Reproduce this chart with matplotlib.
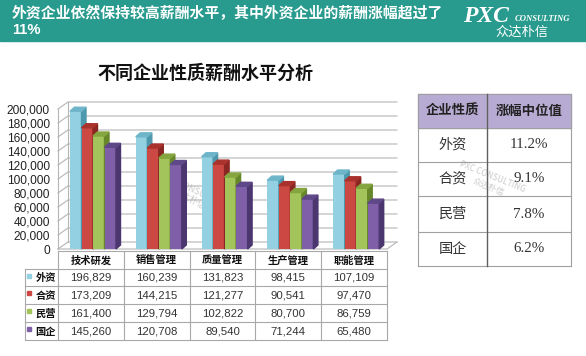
import matplotlib.pyplot as plt
from matplotlib.patches import Rectangle, Polygon

# ---- data ----
categories = ["技术研发", "销售管理", "质量管理", "生产管理", "职能管理"]
series_names = ["外资", "合资", "民营", "国企"]
foreign = [196829, 160239, 131823, 98415, 107109]
joint = [173209, 144215, 121277, 90541, 97470]
private = [161400, 129794, 102822, 80700, 86759]
state = [145260, 120708, 89540, 71244, 65480]
y_ticks = list(range(0, 200001, 20000))

growth_types = ["外资", "合资", "民营", "国企"]
growth_median = ["11.2%", "9.1%", "7.8%", "6.2%"]

header_text = "外资企业依然保持较高薪酬水平，其中外资企业的薪酬涨幅超过了"
header_text2 = "11%"
chart_title = "不同企业性质薪酬水平分析"

front_colors = ["#93d0e2", "#cc4843", "#a2c45a", "#7f60a8"]
side_colors = ["#4e98ad", "#8a2723", "#67872b", "#4b3670"]
top_colors = ["#6fb5ca", "#a9322d", "#84a53f", "#5f4888"]
teal = "#289b8e"
grid_c = "#b5b5b5"
cjk = ["Noto Sans CJK SC", "DejaVu Sans"]
num = ["Liberation Sans", "Noto Sans CJK SC"]

W, H = 586, 356
fig = plt.figure(figsize=(W / 100, H / 100), dpi=100)
bg = fig.add_axes([0, 0, 1, 1])
bg.set_xlim(0, W)
bg.set_ylim(H, 0)
bg.axis("off")

# header band
bg.add_patch(Rectangle((0, 0), W, 41, color=teal, zorder=1))
bg.text(12, 13.5, header_text, color="white", fontsize=10.7, fontweight="bold",
        family=cjk, va="center", ha="left", zorder=2)
bg.text(12, 30, header_text2, color="white", fontsize=10.6, fontweight="bold",
        family=num, va="center", ha="left", zorder=2)
bg.text(463, 17, "PXC", color="white", fontsize=17, fontweight="bold",
        style="italic", family="Liberation Serif", va="center", ha="left", zorder=2)
bg.text(515, 19, "CONSULTING", color="white", fontsize=6.2, fontweight="bold",
        style="italic", family="Liberation Serif", va="center", ha="left", zorder=2)
bg.text(522, 32, "众达朴信", color="white", fontsize=9.5,
        family=cjk, va="center", ha="center", zorder=2)

# chart title
bg.text(205, 73, chart_title, fontsize=13, fontweight="bold", family=cjk,
        va="center", ha="center", color="#111")

# ---- 3D-looking clustered bar chart ----
x0, x1, y0, y1 = 58, 387, 249, 109
ax = fig.add_axes([x0 / W, 1 - y0 / H, (x1 - x0) / W, (y0 - y1) / H])
ax.set_xlim(-0.5, 4.5)
ax.set_ylim(0, 200000)
ax.patch.set_visible(False)
for s in ax.spines.values():
    s.set_visible(False)
ax.set_xticks([])
ax.set_yticks(y_ticks)
ax.set_yticklabels([f"{t:,}" for t in y_ticks], family=num, fontsize=8.6, color="#222")
ax.tick_params(axis="y", length=0, pad=6)

ux = 5 / (x1 - x0)
uy = 200000 / (y0 - y1)
fdx, fdy = 10 * ux, 7 * uy
bdx, bdy = 4.5 * ux, 4 * uy

# walls / grid
for t in y_ticks:
    ax.plot([-0.5, -0.5 + fdx, 4.5 + fdx], [t, t + fdy, t + fdy], color=grid_c,
            lw=0.8, clip_on=False, zorder=1)
ax.plot([-0.5, -0.5], [0, 200000], color=grid_c, lw=0.8, clip_on=False, zorder=1)
ax.plot([-0.5 + fdx, -0.5 + fdx], [fdy, 200000 + fdy], color=grid_c, lw=0.8,
        clip_on=False, zorder=1)
ax.plot([-0.5, 4.5, 4.5 + fdx], [0, 0, fdy], color=grid_c, lw=0.8,
        clip_on=False, zorder=1)

bw = 11.5 * ux
start = -0.5 + 12 * ux
all_series = [foreign, joint, private, state]
z = 3
for i in range(len(categories)):
    for k, vals in enumerate(all_series):
        v = vals[i]
        left = i + start + k * bw
        right = left + bw
        ax.bar(left, v, width=bw, align="edge", color=front_colors[k],
               zorder=z, clip_on=False)
        ax.add_patch(Polygon([(right, 0), (right + bdx, bdy), (right + bdx, v + bdy),
                              (right, v)], closed=True, color=side_colors[k],
                             zorder=z, clip_on=False))
        ax.add_patch(Polygon([(left, v), (left + bdx, v + bdy), (right + bdx, v + bdy),
                              (right, v)], closed=True, color=top_colors[k],
                             zorder=z, clip_on=False))
        z += 1

# watermark
bg.text(192, 195, "PXC CONSULTING\n众达朴信", fontsize=6.5, color="#888888",
        alpha=0.45, rotation=-25, family=cjk, style="italic",
        ha="center", va="center", zorder=20)

# ---- data table under the chart ----
col_w = (x1 - x0) / len(categories)
row_edges = [251, 269, 286, 304, 322, 340]
tc = "#a8a8a8"
bg.plot([x0, x1], [row_edges[0], row_edges[0]], color=tc, lw=0.8)
for r in row_edges[1:]:
    bg.plot([25, x1], [r, r], color=tc, lw=0.8)
for j in range(len(categories) + 1):
    xx = x0 + j * col_w
    bg.plot([xx, xx], [row_edges[0], row_edges[-1]], color=tc, lw=0.8)
bg.plot([25, 25], [row_edges[1], row_edges[-1]], color=tc, lw=0.8)

for j, c in enumerate(categories):
    bg.text(x0 + (j + 0.5) * col_w, (row_edges[0] + row_edges[1]) / 2 + 0.5, c,
            family=cjk, fontsize=7.4, fontweight="bold", ha="center", va="center",
            color="#111")
for k, vals in enumerate(all_series):
    yc = (row_edges[k + 1] + row_edges[k + 2]) / 2
    bg.add_patch(Rectangle((27, yc - 4), 4, 4, color=front_colors[k]))
    bg.text(45.5, yc + 0.5, series_names[k], family=cjk, fontsize=7.4,
            fontweight="bold", ha="center", va="center", color="#111")
    for j, v in enumerate(vals):
        bg.text(x0 + (j + 0.5) * col_w, yc + 0.5, f"{v:,}", family=num,
                fontsize=8.2, ha="center", va="center", color="#333")

# ---- right-hand table ----
rx = [418, 487, 571]
ry = [94, 128, 162, 196, 232, 266]
bg.add_patch(Rectangle((rx[0], ry[0]), rx[2] - rx[0], ry[1] - ry[0],
                       color="#b8abd3", zorder=1))
for r in ry:
    bg.plot([rx[0], rx[2]], [r, r], color="#a0a0a0", lw=0.8, zorder=2)
bg.plot([rx[0], rx[0]], [ry[0], ry[-1]], color="#a0a0a0", lw=0.8, zorder=2)
bg.plot([rx[2], rx[2]], [ry[0], ry[-1]], color="#a0a0a0", lw=0.8, zorder=2)
bg.plot([rx[1], rx[1]], [ry[0], ry[-1]], color="#606060", lw=1.0, zorder=2)

hy = (ry[0] + ry[1]) / 2
bg.text((rx[0] + rx[1]) / 2, hy, "企业性质", family=cjk, fontsize=9.6,
        fontweight="bold", ha="center", va="center", color="#222", zorder=3)
bg.text((rx[1] + rx[2]) / 2, hy, "涨幅中位值", family=cjk, fontsize=9.6,
        fontweight="bold", ha="center", va="center", color="#222", zorder=3)
for k, (name, val) in enumerate(zip(growth_types, growth_median)):
    yc = (ry[k + 1] + ry[k + 2]) / 2
    bg.text((rx[0] + rx[1]) / 2, yc, name, family=cjk, fontsize=10.2,
            ha="center", va="center", color="#333", zorder=3)
    bg.text(529, yc, val, family="Liberation Serif", fontsize=10.8,
            ha="center", va="center", color="#333", zorder=3)

bg.text(490, 182, "PXC CONSULTING\n众达朴信", fontsize=6, color="#888888",
        alpha=0.45, rotation=-22, family=cjk, style="italic",
        ha="center", va="center", zorder=20)

fig.savefig("out.png", dpi=100)
